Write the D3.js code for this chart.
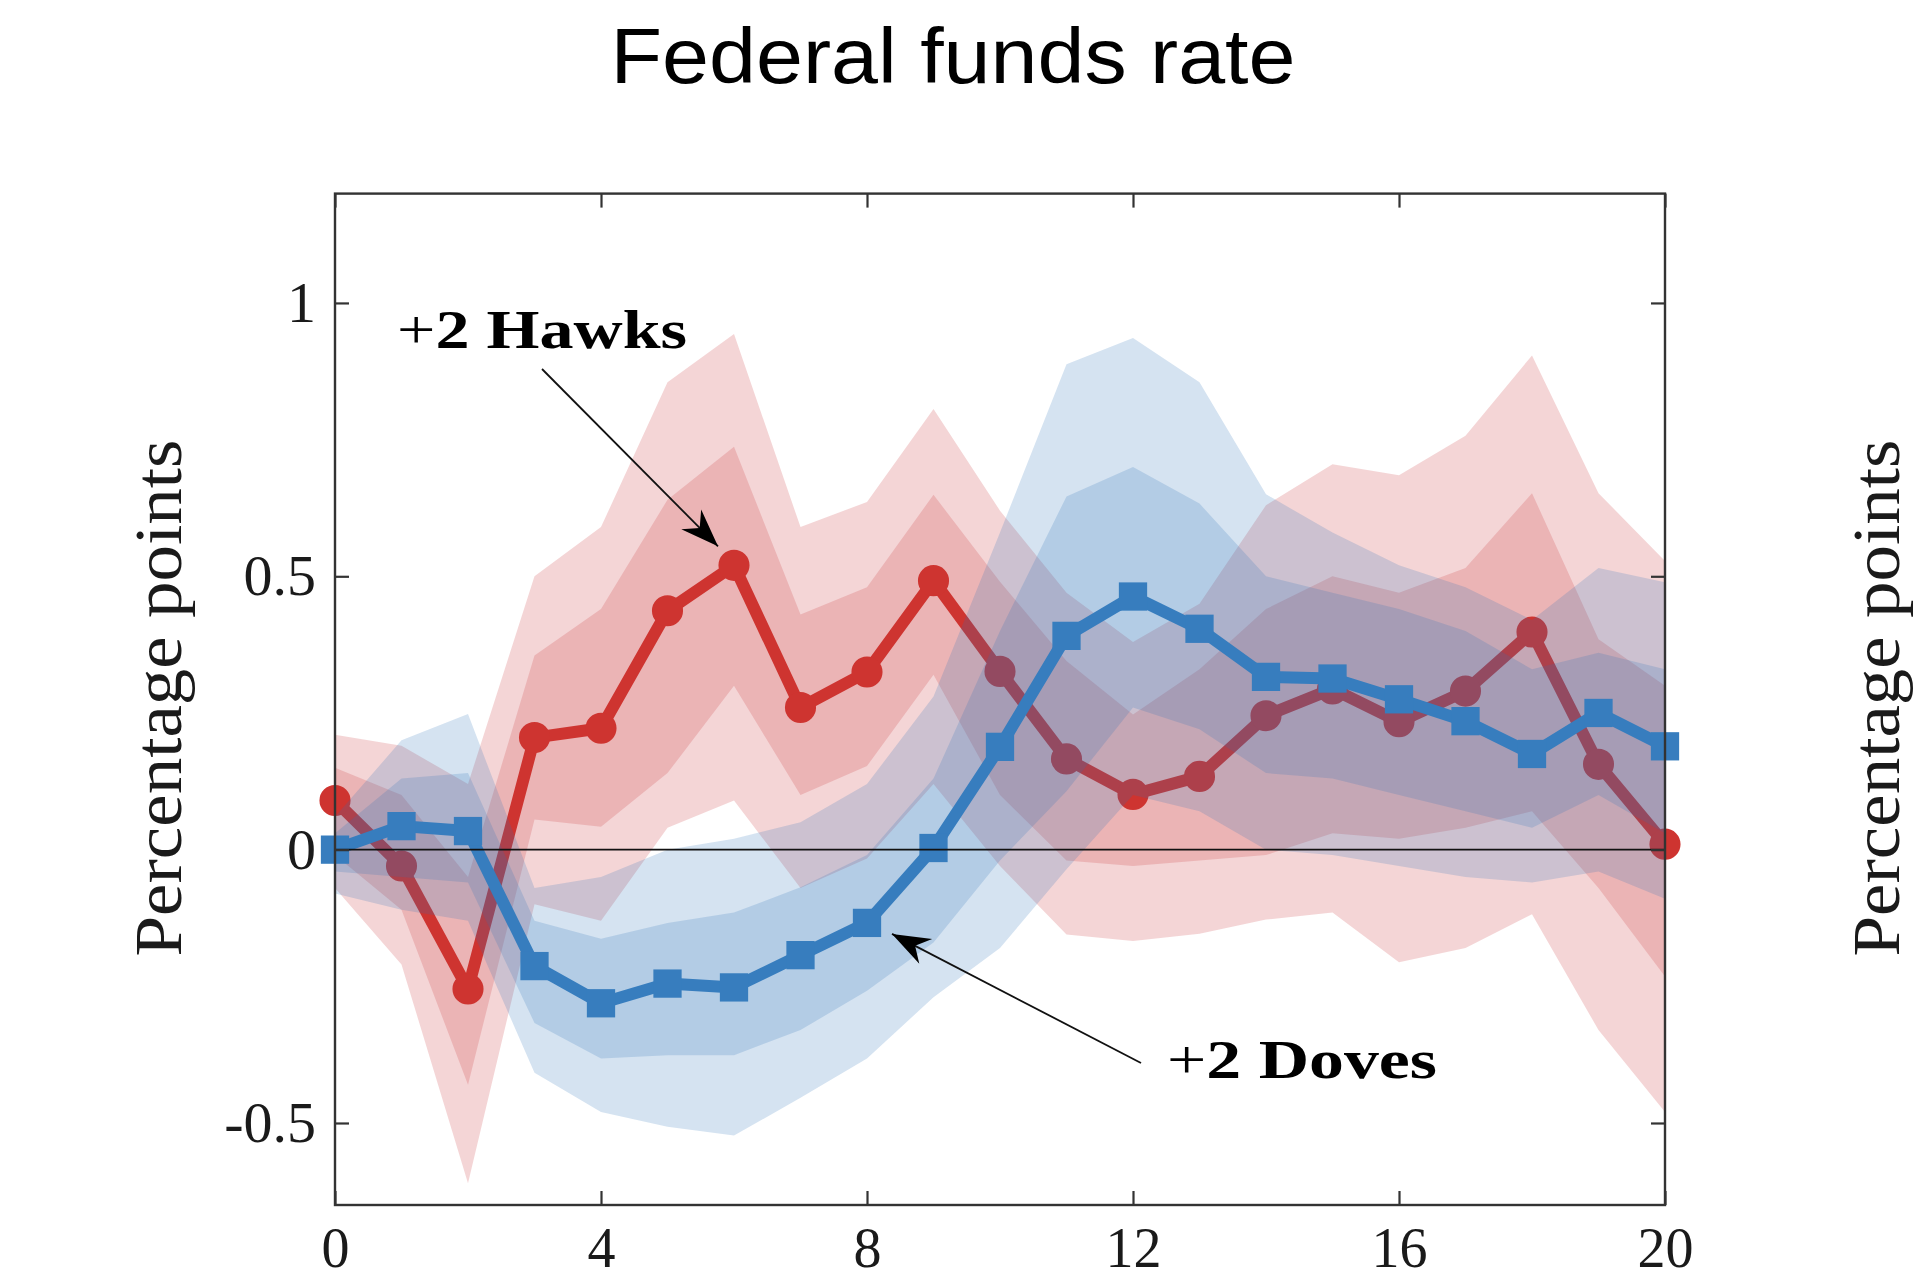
<!DOCTYPE html>
<html><head><meta charset="utf-8">
<script src="https://cdn.jsdelivr.net/npm/d3@7"></script>
<style>body{margin:0;background:#fff} svg{display:block}</style>
</head><body>
<svg id="chart" width="1920" height="1280"></svg>
<script>
// ---------- data ----------
const horizons = [0,1,2,3,4,5,6,7,8,9,10,11,12,13,14,15,16,17,18,19,20];
const xTicks = [0,4,8,12,16,20];
const xTickLabels = ["0","4","8","12","16","20"];
const yTicks = [-0.5,0,0.5,1];
const yTickLabels = ["-0.5","0","0.5","1"];

// +2 Hawks (red, circles)
const hawksMean = [0.09,-0.03,-0.255,0.205,0.222,0.437,0.52,0.26,0.325,0.492,0.326,0.166,0.101,0.134,0.245,0.294,0.234,0.29,0.398,0.156,0.01];
const hawksHi90 = [0.21,0.19,0.12,0.50,0.59,0.855,0.943,0.59,0.636,0.806,0.62,0.47,0.38,0.45,0.63,0.705,0.685,0.757,0.904,0.652,0.528];
const hawksHi68 = [0.15,0.10,-0.05,0.355,0.44,0.64,0.737,0.43,0.48,0.649,0.49,0.345,0.247,0.33,0.44,0.50,0.47,0.515,0.652,0.385,0.30];
const hawksLo68 = [-0.01,-0.11,-0.43,0.055,0.042,0.14,0.30,0.10,0.153,0.32,0.10,-0.02,-0.03,-0.02,-0.01,0.03,0.02,0.04,0.07,-0.07,-0.232];
const hawksLo90 = [-0.07,-0.21,-0.61,-0.10,-0.13,0.04,0.09,-0.07,-0.016,0.12,-0.03,-0.155,-0.167,-0.154,-0.128,-0.115,-0.206,-0.18,-0.118,-0.33,-0.48];

// +2 Doves (blue, squares)
const dovesMean = [0.0,0.043,0.034,-0.213,-0.281,-0.245,-0.252,-0.193,-0.134,0.003,0.188,0.391,0.463,0.404,0.316,0.313,0.275,0.235,0.175,0.25,0.189];
const dovesHi90 = [0.06,0.20,0.248,-0.07,-0.05,0.0,0.02,0.05,0.12,0.28,0.58,0.888,0.936,0.855,0.65,0.58,0.52,0.48,0.42,0.515,0.489];
const dovesHi68 = [0.03,0.13,0.14,-0.13,-0.163,-0.134,-0.115,-0.069,-0.01,0.13,0.40,0.646,0.70,0.633,0.50,0.47,0.44,0.40,0.33,0.36,0.33];
const dovesLo68 = [-0.04,-0.05,-0.06,-0.317,-0.382,-0.376,-0.376,-0.33,-0.258,-0.17,-0.02,0.107,0.26,0.22,0.14,0.13,0.10,0.07,0.04,0.10,0.03];
const dovesLo90 = [-0.08,-0.11,-0.13,-0.408,-0.48,-0.507,-0.523,-0.454,-0.382,-0.27,-0.18,-0.036,0.10,0.07,0.0,-0.01,-0.03,-0.05,-0.06,-0.04,-0.09];

// ---------- layout ----------
const svg = d3.select('#chart');
const L = 335, R = 1665, T = 193.6, B = 1205;
const x = d3.scaleLinear().domain([0,20]).range([L,R]);
const y = d3.scaleLinear().domain([-0.65,1.2]).range([B,T]);
const serif = "'Liberation Serif','Times New Roman',serif";

svg.append('defs').append('clipPath').attr('id','plotclip')
  .append('rect').attr('x',L).attr('y',T).attr('width',R-L).attr('height',B-T);

const RED = 'rgb(206,52,48)', BLUE = 'rgb(55,125,190)';
const REDBAND = 'rgb(205,55,60)', BLUEBAND = 'rgb(45,115,185)';

function band(lo, hi, color, op){
  const a = d3.area().x((d,i)=>x(horizons[i])).y0((d,i)=>y(lo[i])).y1((d,i)=>y(hi[i]));
  svg.append('path').attr('d', a(horizons)).attr('fill',color).attr('fill-opacity',op)
     .attr('clip-path','url(#plotclip)');
}
function series(vals, color, shape){
  const ln = d3.line().x((d,i)=>x(horizons[i])).y((d,i)=>y(vals[i]));
  svg.append('path').attr('d', ln(horizons)).attr('fill','none').attr('stroke',color)
     .attr('stroke-width',12).attr('stroke-linejoin','round');
  const sym = d3.symbol().type(shape).size(shape===d3.symbolCircle ? 760 : 800);
  svg.append('g').selectAll('path').data(horizons).join('path')
     .attr('transform',(d,i)=>`translate(${x(d)},${y(vals[i])})`)
     .attr('d', sym()).attr('fill',color);
}

// red first, then blue drawn on top
band(hawksLo90, hawksHi90, REDBAND, 0.21);
band(hawksLo68, hawksHi68, REDBAND, 0.21);
series(hawksMean, RED, d3.symbolCircle);
band(dovesLo90, dovesHi90, BLUEBAND, 0.2);
band(dovesLo68, dovesHi68, BLUEBAND, 0.2);
series(dovesMean, BLUE, d3.symbolSquare);

// zero line
svg.append('line').attr('x1',L).attr('x2',R).attr('y1',y(0)).attr('y2',y(0))
   .attr('stroke','#111').attr('stroke-width',1.8);

// ---------- axes ----------
const AX = '#333';
function styleAxis(g, labels, fs){
  g.select('.domain').remove();
  g.selectAll('.tick line').attr('stroke',AX).attr('stroke-width',2.2);
  g.selectAll('.tick text').attr('font-family',serif).attr('font-size',fs).attr('fill','#1a1a1a');
  if(!labels) g.selectAll('.tick text').remove();
}
svg.append('g').attr('transform',`translate(0,${B})`)
  .call(d3.axisBottom(x).tickValues(xTicks).tickFormat((d,i)=>xTickLabels[i]).tickSizeInner(-14).tickSizeOuter(0).tickPadding(22))
  .call(g=>styleAxis(g,true,56));
svg.append('g').attr('transform',`translate(0,${T})`)
  .call(d3.axisTop(x).tickValues(xTicks).tickSizeInner(-14).tickSizeOuter(0))
  .call(g=>styleAxis(g,false,56));
svg.append('g').attr('transform',`translate(${L},0)`)
  .call(d3.axisLeft(y).tickValues(yTicks).tickFormat((d,i)=>yTickLabels[i]).tickSizeInner(-14).tickSizeOuter(0).tickPadding(19))
  .call(g=>styleAxis(g,true,58));
svg.append('g').attr('transform',`translate(${R},0)`)
  .call(d3.axisRight(y).tickValues(yTicks).tickSizeInner(-14).tickSizeOuter(0))
  .call(g=>styleAxis(g,false,58));
svg.append('rect').attr('x',L).attr('y',T).attr('width',R-L).attr('height',B-T)
   .attr('fill','none').attr('stroke',AX).attr('stroke-width',2.4);

// ---------- texts ----------
svg.append('text').attr('x',953).attr('y',83).attr('text-anchor','middle')
   .attr('font-family',"'Liberation Sans',Arial,sans-serif").attr('font-size',78)
   .attr('textLength',685).attr('lengthAdjust','spacingAndGlyphs').attr('fill','#000')
   .text('Federal funds rate');

function ylabel(cx){
  svg.append('text').attr('transform',`translate(${cx},698) rotate(-90)`)
     .attr('text-anchor','middle').attr('font-family',serif).attr('font-size',68)
     .attr('textLength',517).attr('lengthAdjust','spacingAndGlyphs').attr('fill','#1a1a1a')
     .text('Percentage points');
}
ylabel(181);
ylabel(1899);

function annot(tx, ty, width, word){
  const t = svg.append('text').attr('x',tx).attr('y',ty).attr('font-family',serif)
     .attr('font-size',54).attr('textLength',width).attr('lengthAdjust','spacingAndGlyphs').attr('fill','#000');
  t.append('tspan').attr('font-weight','normal').text('+');
  t.append('tspan').attr('font-weight','bold').text('2 ' + word);
}
annot(397, 348, 290, 'Hawks');
annot(1167, 1078, 270, 'Doves');

function arrow(x1,y1,x2,y2){
  svg.append('line').attr('x1',x1).attr('y1',y1).attr('x2',x2).attr('y2',y2)
     .attr('stroke','#111').attr('stroke-width',1.8);
  const ang = Math.atan2(y2-y1, x2-x1);
  const len = 38, hw = 14, notch = 12;
  const pts = [[0,0],[-len,-hw],[-len+notch,0],[-len,hw]].map(([a,b])=>[
    x2 + a*Math.cos(ang) - b*Math.sin(ang), y2 + a*Math.sin(ang) + b*Math.cos(ang)]);
  svg.append('path').attr('d','M'+pts.map(p=>p.join(',')).join('L')+'Z').attr('fill','#000');
}
// arrow tips placed next to the annotated data points
arrow(542, 369, x(horizons[6]) - 16, y(hawksMean[6]) - 19);
arrow(1141, 1063, x(horizons[8]) + 25, y(dovesMean[8]) + 11);
</script>
</body></html>
